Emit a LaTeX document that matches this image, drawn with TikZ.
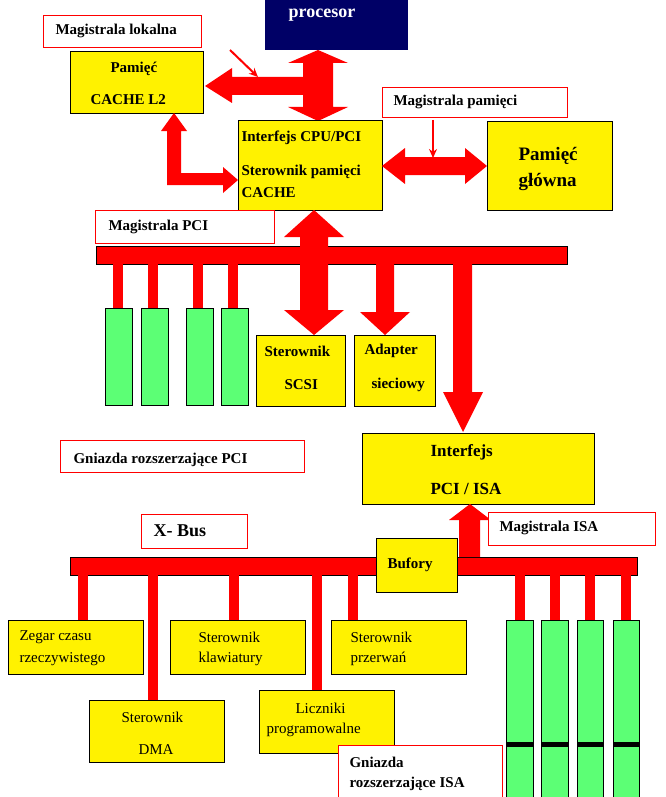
\documentclass[tikz,border=0pt]{standalone}
\usepackage{fontspec}
\setmainfont{Liberation Serif}
\begin{document}
\begin{tikzpicture}[x=1pt,y=-1pt,
 yb/.style={fill=yellow,draw=black,line width=0.8pt},
 lb/.style={fill=white,draw=red,line width=0.8pt},
 gs/.style={fill=green!60!white!90!cyan,draw=black,line width=0.8pt},
 ra/.style={fill=red,draw=none},
 bus/.style={fill=red,draw=black,line width=0.8pt},
 bt/.style={font=\fontsize{15}{18}\selectfont\bfseries,anchor=west},
 nt/.style={font=\fontsize{15}{18}\selectfont,anchor=west},
 thin/.style={red,line width=2pt,-{Latex[length=8pt,width=7pt]}}]
\useasboundingbox (0,0) rectangle (665,797);
\tikzset{>=latex}
\usetikzlibrary{arrows.meta}
% procesor
\fill[fill={rgb,255:red,0;green,0;blue,102}] (265,0) rectangle (408,50);
\node[font=\fontsize{18}{20}\selectfont\bfseries,text=white] (proc) at (322,15) {procesor};
% labels top
\draw[lb] (43,15) rectangle (201,47);
\node[bt] (ml) at (52,31) {Magistrala lokalna};
\draw[yb] (70,51) rectangle (203,113);
\node[bt] at (107,69) {Pamięć};
\node[bt] at (87,100) {CACHE L2};
% arrows from processor
\fill[ra] (318,50)--(348,63)--(333,63)--(333,107)--(348,107)--(318,121)--(288,107)--(303,107)--(303,63)--(288,63)--cycle;
\fill[ra] (205,86)--(232,68)--(232,77)--(304,77)--(304,95)--(232,95)--(232,103)--cycle;
\coordinate (mlA) at (230,50); \coordinate (mlB) at (258,77);
\draw[red,line width=2pt,-{Stealth[length=9pt,width=8pt]}] (mlA)--(mlB);
% CPU/PCI
\draw[yb] (238,120) rectangle (382,210);
\node[bt] at (238,138) {Interfejs CPU/PCI};
\node[bt] at (238,172) {Sterownik pamięci};
\node[bt] at (238,193) {CACHE};
\fill[ra] (174,113)--(187,131)--(181,131)--(181,173)--(223,173)--(223,167)--(238,180)--(223,193)--(223,185)--(167,185)--(167,131)--(161,131)--cycle;
% memory bus
\draw[lb] (382,87) rectangle (567,117);
\node[bt] at (390,102) {Magistrala pamięci};
\coordinate (mpA) at (433,120); \coordinate (mpB) at (433,158);
\draw[red,line width=2pt,-{Stealth[length=9pt,width=8pt]}] (mpA)--(mpB);
\fill[ra] (382,166)--(405,148)--(405,157)--(465,157)--(465,148)--(487,166)--(465,184)--(465,175)--(405,175)--(405,184)--cycle;
\draw[yb] (487,121) rectangle (612,210);
\node[font=\fontsize{19}{22}\selectfont\bfseries,anchor=west] at (515,156) {Pamięć};
\node[font=\fontsize{19}{22}\selectfont\bfseries,anchor=west] at (515,182) {główna};
% PCI
\draw[lb] (95,210) rectangle (274,243);
\node[bt] at (105,227) {Magistrala PCI};
\draw[bus] (96,246) rectangle (567,264);
\foreach \x in {118,153,198,233}{\fill[ra] (\x-5,264) rectangle (\x+5,308);}
\foreach \a/\b in {105/132,141/168,186/213,221/248}{\draw[gs] (\a,308) rectangle (\b,405);}
\fill[ra] (314,210)--(344,237)--(328,237)--(328,310)--(344,310)--(314,335)--(284,310)--(300,310)--(300,237)--(284,237)--cycle;
\fill[ra] (376,264)--(394,264)--(394,312)--(410,312)--(385,335)--(360,312)--(376,312)--cycle;
\fill[ra] (453,264)--(472,264)--(472,392)--(483,392)--(463,432)--(443,392)--(453,392)--cycle;
\draw[yb] (256,335) rectangle (345,406);
\node[bt] at (261,351) {Sterownik};
\node[bt] at (281,385) {SCSI};
\draw[yb] (354,335) rectangle (435,406);
\node[bt] at (361,351) {Adapter};
\node[bt] at (368,385) {sieciowy};
\draw[lb] (60,440) rectangle (304,472);
\node[bt] at (70,460) {Gniazda rozszerzające PCI};
\draw[yb] (362,433) rectangle (594,504);
\node[font=\fontsize{17}{20}\selectfont\bfseries,anchor=west] at (427,452) {Interfejs};
\node[font=\fontsize{17}{20}\selectfont\bfseries,anchor=west] at (427,489) {PCI /  ISA};
% ISA
\draw[bus] (70,557) rectangle (637,575);
\fill[ra] (470,504)--(491,520)--(480,520)--(480,557)--(459,557)--(459,520)--(449,520)--cycle;
\draw[lb] (488,512) rectangle (655,545);
\node[bt] at (496,528) {Magistrala ISA};
\draw[lb] (141,514) rectangle (247,548);
\node[font=\fontsize{18}{20}\selectfont\bfseries,anchor=west] at (150,531) {X- Bus};
\draw[yb] (376,538) rectangle (457,592);
\node[bt] at (384,565) {Bufory};
\fill[ra] (78,575) rectangle (88,620);
\fill[ra] (148,575) rectangle (158,700);
\fill[ra] (229,575) rectangle (239,620);
\fill[ra] (312,575) rectangle (322,690);
\fill[ra] (348,575) rectangle (358,620);
\foreach \a/\b in {506/533,541/568,577/603,613/639}{
 \fill[ra] ({(\a+\b)/2-5},575) rectangle ({(\a+\b)/2+5},620);
 \draw[gs] (\a,620) rectangle (\b,800);
 \fill[black] (\a,742) rectangle (\b,747);}
\draw[yb] (8,620) rectangle (143,674);
\node[nt] at (16,637) {Zegar czasu};
\node[nt] at (16,659) {rzeczywistego};
\draw[yb] (170,620) rectangle (305,674);
\node[nt] at (195,637) {Sterownik};
\node[nt] at (195,659) {klawiatury};
\draw[yb] (331,620) rectangle (466,674);
\node[nt] at (347,637) {Sterownik};
\node[nt] at (347,659) {przerwań};
\draw[yb] (89,700) rectangle (224,762);
\node[nt] at (118,717) {Sterownik};
\node[nt] at (135,750) {DMA};
\draw[yb] (259,690) rectangle (394,753);
\node[nt] at (292,708) {Liczniki};
\node[nt] at (263,730) {programowalne};
\draw[lb] (338,745) rectangle (502,800);
\node[bt] at (346,762) {Gniazda};
\node[bt] at (346,784) {rozszerzające ISA};
\end{tikzpicture}
\end{document}
